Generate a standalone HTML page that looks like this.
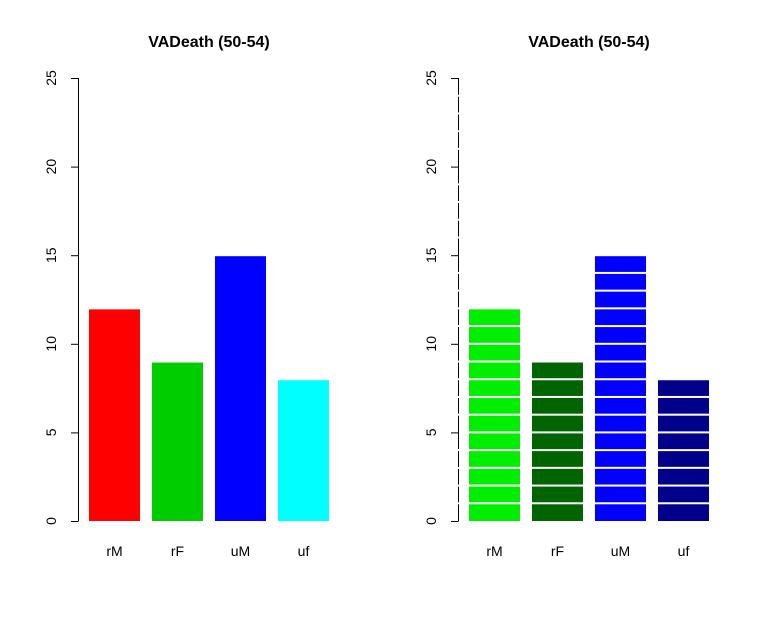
<!DOCTYPE html>
<html><head><meta charset="utf-8"><style>body{margin:0;background:#fff}svg{display:block}</style></head>
<body>
<svg id="c" width="760" height="620" xmlns="http://www.w3.org/2000/svg" font-family="Liberation Sans, sans-serif"></svg>
<script>
const categories=["rM","rF","uM","uf"];
const values=[12,9,15,8];
const ticks=[0,5,10,15,20,25];
const colorsLeft=["#FF0000","#00CD00","#0000FF","#00FFFF"];
const colorsRight=["#00EE00","#006400","#0000FF","#00008B"];
const title="VADeath (50-54)";
const NS="http://www.w3.org/2000/svg";
const svg=document.getElementById('c');
function mk(t,a,p){const e=document.createElementNS(NS,t);for(const k in a)e.setAttribute(k,a[k]);(p||svg).appendChild(e);return e;}
const y0=521,yTop=78,ymax=25;
function Y(v){return y0-(y0-yTop)*v/ymax;}
function panel(ax,colors,striped,name){
  const g=mk('g',{});
  
  
  const bx=v=>ax+11+v*63;
  const t=mk('text',{x:ax+131,y:47,'text-anchor':'middle','font-size':16,'font-weight':'bold'},g);t.textContent=title;
  
  
  values.forEach((v,i)=>{
    const r=mk('rect',{x:bx(i),y:Y(v)+1,width:51,height:Y(0)-Y(v)-1,fill:colors[i]},g);
    
    
    const l=mk('text',{x:bx(i)+25.5,y:556,'text-anchor':'middle','font-size':14},g);l.textContent=categories[i];
    
    
  });
  const a=mk('line',{x1:ax+0.5,x2:ax+0.5,y1:Y(0),y2:Y(ymax),stroke:'#000'},g);
  
  
  ticks.forEach(v=>{
    mk('line',{x1:ax-7,x2:ax+0.5,y1:Y(v)+0.5,y2:Y(v)+0.5,stroke:'#000'},g);
    const tx=mk('text',{transform:`translate(${ax-22},${Y(v)}) rotate(-90)`,'text-anchor':'middle','font-size':14},g);tx.textContent=v;
    
    
  });
  if(striped){
    for(let k=1;k<ymax;k++){
      values.forEach((v,i)=>{if(k<v)mk('rect',{x:bx(i),y:Y(k)-1,width:51,height:2,fill:'#fff'},g);});
      if(k%5)mk('rect',{x:ax-1,y:Y(k)-1,width:3,height:2,fill:'#fff'},g);
    }
  }
}
panel(78,colorsLeft,false,'left-panel');
panel(458,colorsRight,true,'right-panel');
</script>
</body></html>
